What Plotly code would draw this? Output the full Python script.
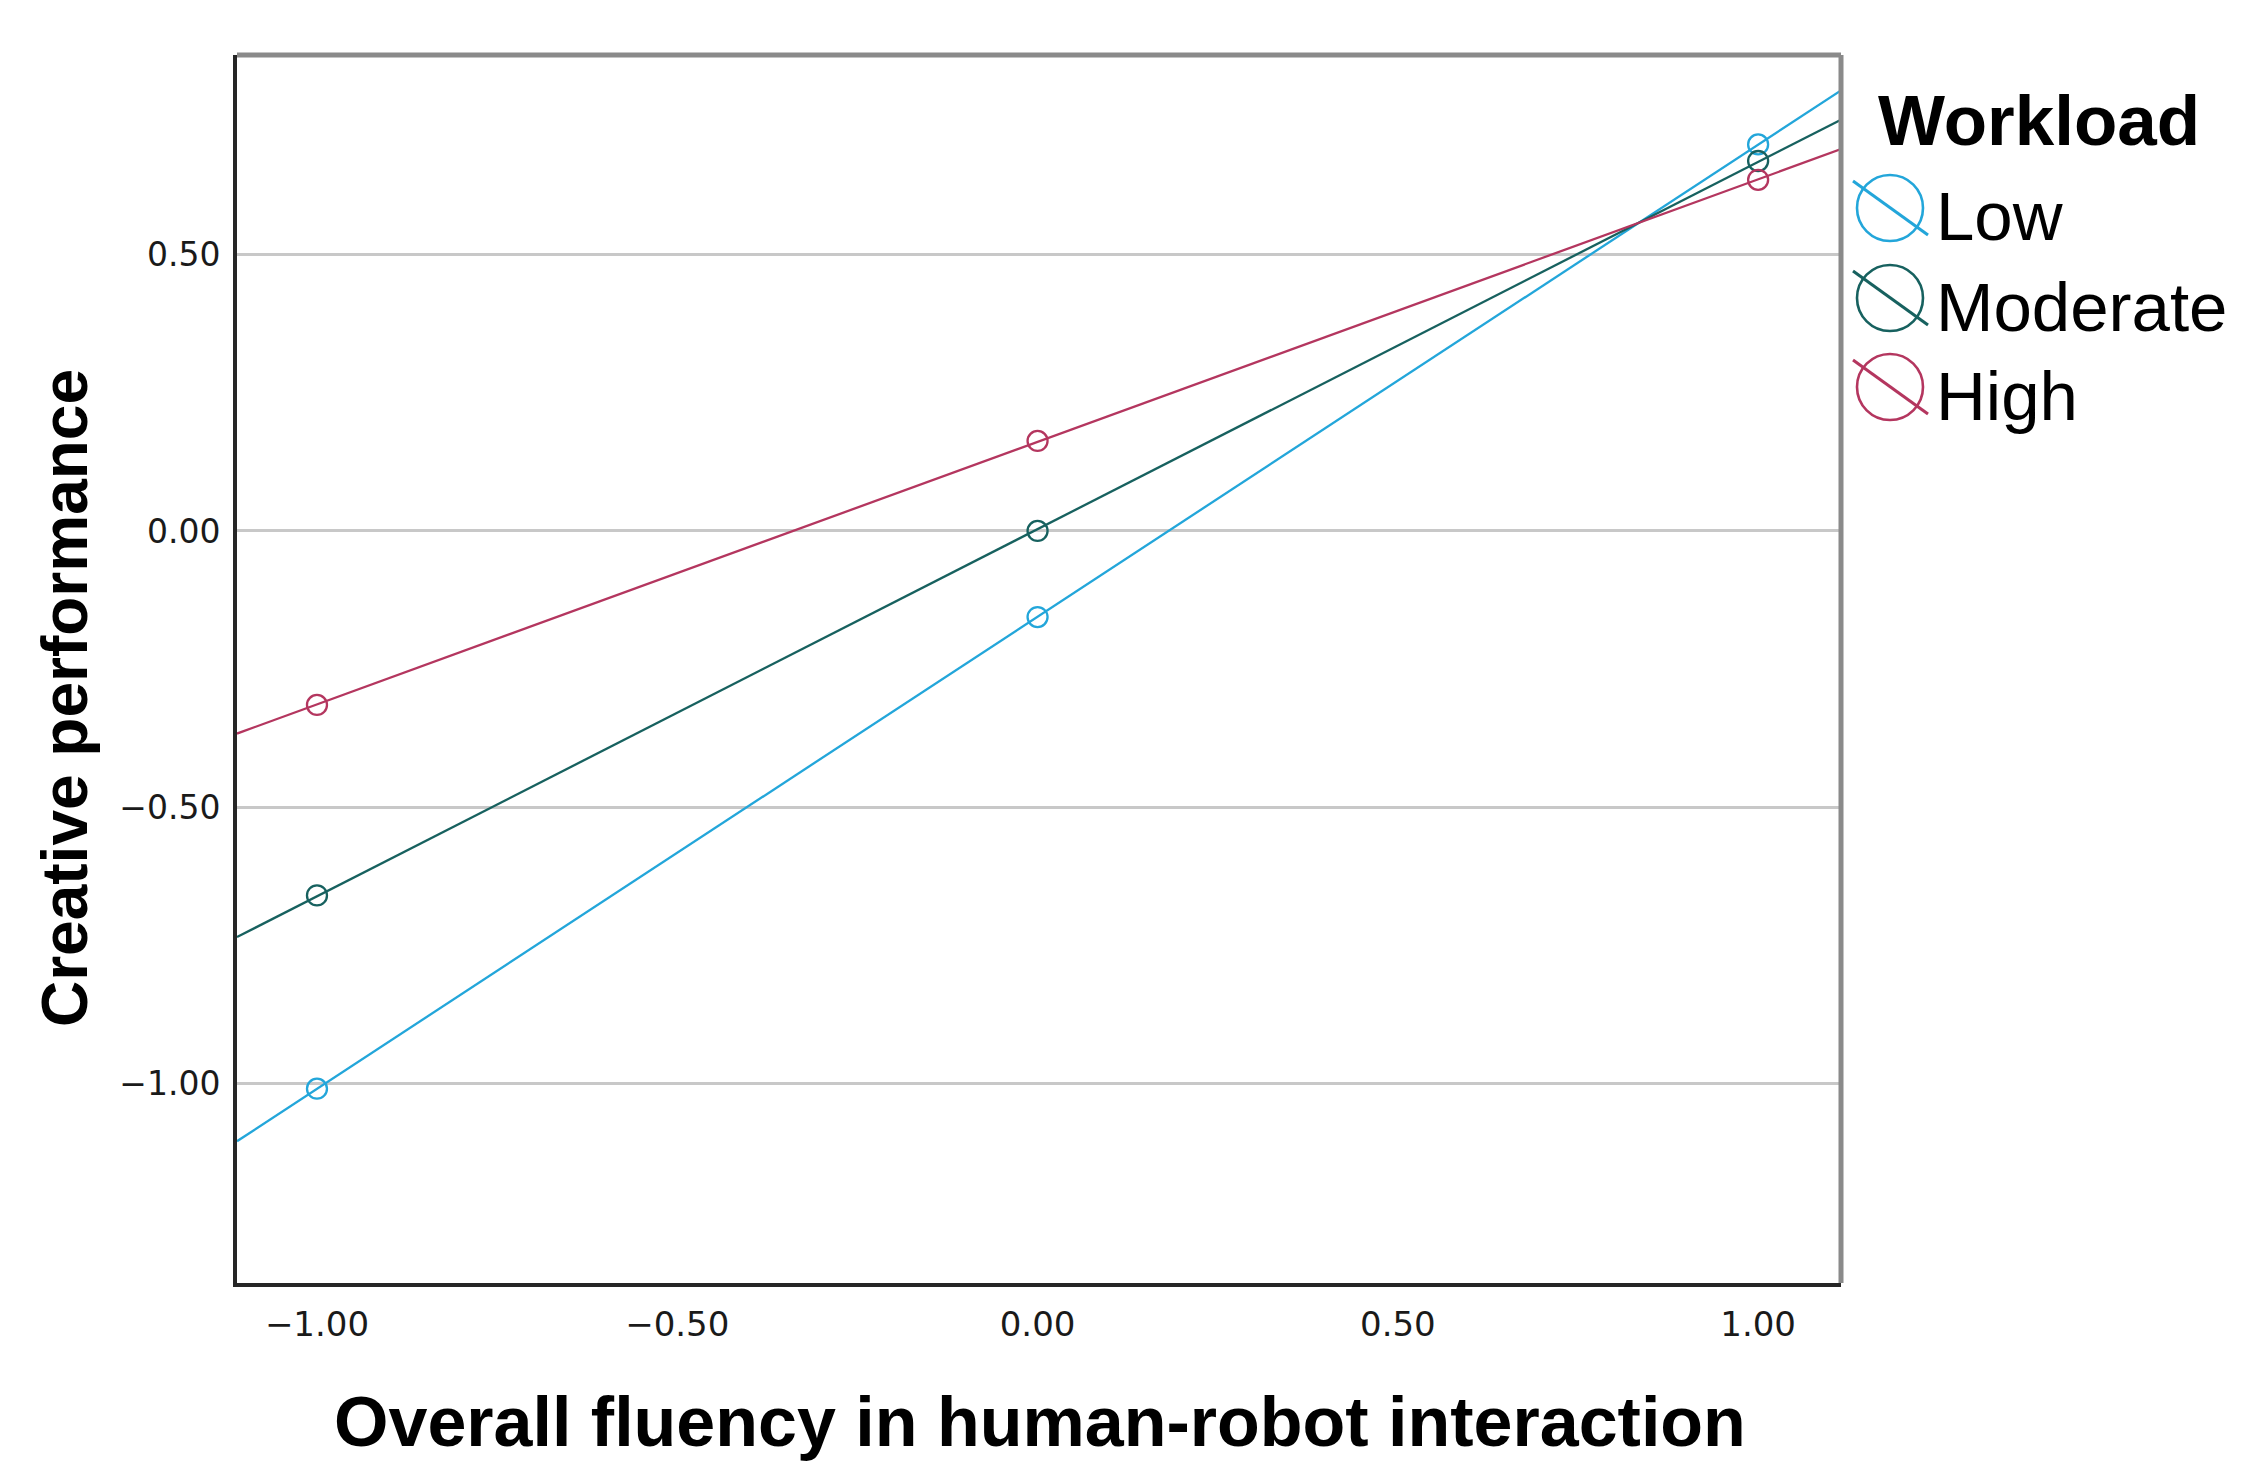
import numpy as np
import plotly.graph_objects as go

# values
fluency = [-1.0, 0.0, 1.0]
workload_levels = ["Low", "Moderate", "High"]
low = [-1.01, -0.156, 0.70]
moderate = [-0.66, 0.0, 0.67]
high = [-0.315, 0.163, 0.636]
y_ticks = [-1.0, -0.5, 0.0, 0.5]
x_ticks = [-1.0, -0.5, 0.0, 0.5, 1.0]

series = dict(zip(workload_levels, [low, moderate, high]))
colors = {"Low": "#23A6DA", "Moderate": "#17615F", "High": "#B4365F"}

x_range = [-1.111, 1.115]
y_range = [-1.362, 0.862]

W, H = 2251, 1473
L, R, T, B = 229, 418, 47, 198
pw, ph = W - L - R, H - T - B


def px_x(px):
    return (px - L) / pw


def px_y(py):
    return (H - B - py) / ph


fig = go.Figure()

# fitted line across the full x range, then the markers
for name, vals in series.items():
    slope, intercept = np.polyfit(fluency, vals, 1)
    xs = np.array(x_range)
    fig.add_trace(go.Scatter(
        x=xs, y=slope * xs + intercept, mode="lines",
        line=dict(color=colors[name], width=2.3),
        showlegend=False, hoverinfo="skip"
    ))
    fig.add_trace(go.Scatter(
        x=fluency, y=vals, mode="markers", name=name,
        marker=dict(symbol="circle-open", size=20, color=colors[name],
                    line=dict(width=2.3, color=colors[name])),
        showlegend=False
    ))

shapes = [
    # gray top and right frame
    dict(type="line", xref="paper", yref="paper", x0=0, x1=1, y0=1, y1=1,
         line=dict(color="#8a8a8a", width=5)),
    dict(type="line", xref="paper", yref="paper", x0=1, x1=1, y0=0, y1=1,
         line=dict(color="#8a8a8a", width=5)),
]

annotations = [
    dict(text="<b>Workload</b>", xref="paper", yref="paper",
         x=px_x(1868), y=px_y(112), xanchor="left", yanchor="middle",
         showarrow=False, font=dict(family="Liberation Sans", size=71, color="#000")),
    dict(text="<b>Overall fluency in human-robot interaction</b>", xref="paper", yref="paper",
         x=px_x(1032), y=px_y(1414), xanchor="center", yanchor="middle",
         showarrow=False, font=dict(family="Liberation Sans", size=70, color="#000")),
    dict(text="<b>Creative performance</b>", xref="paper", yref="paper",
         x=px_x(57), y=px_y(690), xanchor="center", yanchor="middle", textangle=-90,
         showarrow=False, font=dict(family="Liberation Sans", size=64, color="#000")),
]

# hand-drawn legend: circle crossed by a diagonal stroke
leg_y = [200, 290, 379]
for name, cy in zip(workload_levels, leg_y):
    cx = 1882
    shapes.append(dict(type="circle", xref="paper", yref="paper",
                       xsizemode="pixel", ysizemode="pixel",
                       xanchor=px_x(cx), yanchor=px_y(cy),
                       x0=-33, x1=33, y0=-33, y1=33,
                       line=dict(color=colors[name], width=2.6)))
    shapes.append(dict(type="line", xref="paper", yref="paper",
                       xsizemode="pixel", ysizemode="pixel",
                       xanchor=px_x(cx), yanchor=px_y(cy),
                       x0=-37, x1=38, y0=27, y1=-27,
                       line=dict(color=colors[name], width=3)))
    annotations.append(dict(text=name, xref="paper", yref="paper",
                            x=px_x(1926), y=px_y(cy + 9), xanchor="left", yanchor="middle",
                            showarrow=False,
                            font=dict(family="Liberation Sans", size=69, color="#000")))

fig.update_layout(
    width=W, height=H,
    margin=dict(l=L, r=R, t=T, b=B, pad=0),
    paper_bgcolor="white", plot_bgcolor="white",
    shapes=shapes, annotations=annotations,
    showlegend=False,
    xaxis=dict(range=x_range, tickvals=x_ticks, tickformat=".2f",
               showgrid=False, zeroline=False,
               showline=True, linecolor="#262626", linewidth=4,
               ticks="", ticklabelstandoff=8,
               tickfont=dict(family="DejaVu Sans", size=34, color="#1a1a1a")),
    yaxis=dict(range=y_range, tickvals=y_ticks, tickformat=".2f",
               showgrid=True, gridcolor="#c8c8c8", gridwidth=3, zeroline=False,
               showline=True, linecolor="#262626", linewidth=4,
               ticks="", ticklabelstandoff=6,
               tickfont=dict(family="DejaVu Sans", size=33, color="#1a1a1a")),
)

fig.write_html("out.html")
